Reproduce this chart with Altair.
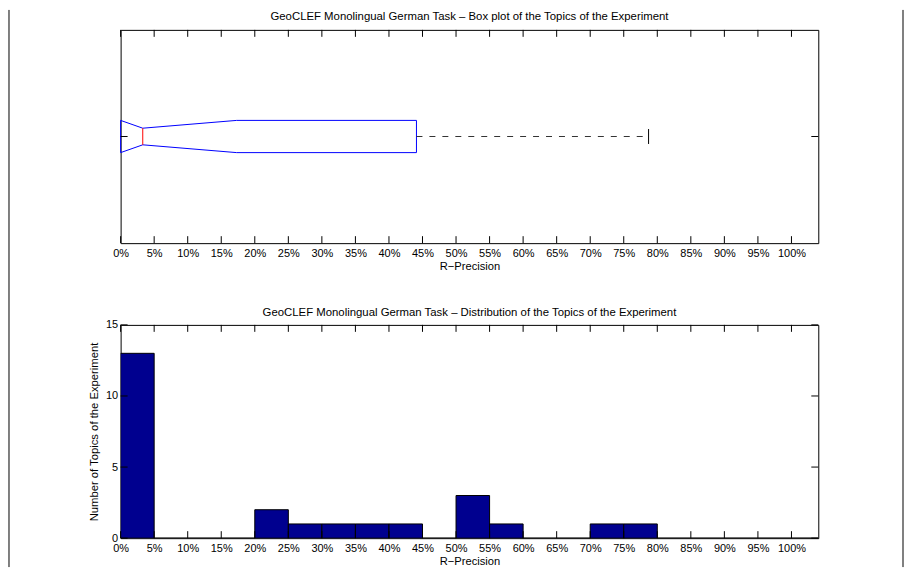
import altair as alt
import pandas as pd

# ---------------- data ----------------
# Histogram (R-Precision, percent bins of width 5)
bin_start = [0, 5, 10, 15, 20, 25, 30, 35, 40, 45, 50, 55, 60, 65, 70, 75, 80, 85, 90, 95, 100]
counts = [13, 0, 0, 0, 2, 1, 1, 1, 1, 0, 3, 1, 0, 0, 1, 1, 0, 0, 0, 0, 0]
bin_width = 5

# Box plot statistics (percent)
stat_min = 0.0
stat_q1 = 0.0
stat_median = 3.3
stat_q3 = 44.1
stat_max = 78.7
notch_low = 0.0
notch_high = 17.3

x_ticks = list(range(0, 101, 5))
hist_y_ticks = [0, 5, 10, 15]
box_y_ticks = [1]

title_top = "GeoCLEF Monolingual German Task – Box plot of the Topics of the Experiment"
title_bottom = "GeoCLEF Monolingual German Task – Distribution of the Topics of the Experiment"
x_title = "R−Precision"
y_title = "Number of Topics of the Experiment"

# ---------------- geometry / style ----------------
W, H = 700, 214
GAP = 82
TICK = 7
FONT = "Liberation Sans"
BOX_H = 0.151      # half height of the box (y units)
NOTCH_H = 0.078    # half height at the median notch
CAP_H = 0.07       # half height of whisker cap

xscale = alt.Scale(domain=[0, 104], nice=False, zero=False)
xaxis = alt.Axis(values=x_ticks, labelExpr="datum.value + '%'", ticks=False, domain=False,
                 grid=False, labelPadding=4, title=x_title, titlePadding=2,
                 labelFontSize=11, titleFontSize=11.2, labelFont=FONT, titleFont=FONT,
                 labelColor="black", titleColor="black", titleFontWeight="normal",
                 labelFlush=False)


def X(field):
    return alt.X(field, type="quantitative", scale=xscale, axis=xaxis)


def borders(top, bottom):
    d = pd.DataFrame({"k": [0]})
    left = alt.Chart(d).mark_rule(color="black", strokeWidth=1).encode(
        x=alt.value(-112), y=alt.value(top), y2=alt.value(bottom))
    right = alt.Chart(d).mark_rule(color="black", strokeWidth=1).encode(
        x=alt.value(785), y=alt.value(top), y2=alt.value(bottom))
    return [left, right]


def title_mark(text, dy):
    d = pd.DataFrame({"t": [text]})
    return alt.Chart(d).mark_text(font=FONT, fontSize=11.4, color="black",
                                  align="center", baseline="middle").encode(
        x=alt.value(W / 2), y=alt.value(dy), text="t:N")


def x_tick_layers():
    d = pd.DataFrame({"v": x_ticks})
    bot = alt.Chart(d).mark_rule(color="black", strokeWidth=1).encode(
        x=X("v"), y=alt.value(H), y2=alt.value(H - TICK))
    top = alt.Chart(d).mark_rule(color="black", strokeWidth=1).encode(
        x=X("v"), y=alt.value(0), y2=alt.value(TICK))
    return [bot, top]


# ---------------- top panel: notched box plot ----------------
yscale_box = alt.Scale(domain=[0, 2], nice=False, zero=False)


def YB(field):
    return alt.Y(field, type="quantitative", scale=yscale_box, axis=None)


pts_x = [stat_q1, notch_low, stat_median, notch_high, stat_q3, stat_q3,
         notch_high, stat_median, notch_low, stat_q1, stat_q1]
pts_y = [1 - BOX_H, 1 - BOX_H, 1 - NOTCH_H, 1 - BOX_H, 1 - BOX_H, 1 + BOX_H,
         1 + BOX_H, 1 + NOTCH_H, 1 + BOX_H, 1 + BOX_H, 1 - BOX_H]
box_df = pd.DataFrame({"x": pts_x, "y": pts_y, "o": list(range(len(pts_x)))})

box = alt.Chart(box_df).mark_line(color="#0000ff", strokeWidth=1).encode(
    x=X("x"), y=YB("y"), order="o:Q")

med_df = pd.DataFrame({"x": [stat_median], "y": [1 - NOTCH_H], "y2": [1 + NOTCH_H]})
median = alt.Chart(med_df).mark_rule(color="#ff0000", strokeWidth=1).encode(
    x=X("x"), y=YB("y"), y2="y2")

wh_df = pd.DataFrame({"x": [stat_q3, stat_min], "x2": [stat_max, stat_q1], "y": [1, 1]})
whisker = alt.Chart(wh_df).mark_rule(color="#333333", strokeWidth=1, strokeDash=[6, 7]).encode(
    x=X("x"), x2="x2", y=YB("y"))

cap_df = pd.DataFrame({"x": [stat_max], "y": [1 - CAP_H], "y2": [1 + CAP_H]})
cap = alt.Chart(cap_df).mark_rule(color="black", strokeWidth=1).encode(
    x=X("x"), y=YB("y"), y2="y2")

yt_df = pd.DataFrame({"v": box_y_ticks})
ytl = alt.Chart(yt_df).mark_rule(color="black", strokeWidth=1).encode(
    y=YB("v"), x=alt.value(0), x2=alt.value(TICK))
ytr = alt.Chart(yt_df).mark_rule(color="black", strokeWidth=1).encode(
    y=YB("v"), x=alt.value(W - TICK), x2=alt.value(W))

top_panel = alt.layer(
    box, median, whisker, cap, ytl, ytr, *x_tick_layers(),
    *borders(-20, 2 * H + GAP + 29),
    title_mark(title_top, -13)
).properties(width=W, height=H)

# ---------------- bottom panel: histogram ----------------
yscale_h = alt.Scale(domain=[0, 15], nice=False, zero=True)
yaxis_h = alt.Axis(values=hist_y_ticks, ticks=False, domain=False, grid=False,
                   labelPadding=3, title=y_title, titlePadding=6,
                   labelFontSize=11, titleFontSize=11.3, labelFont=FONT, titleFont=FONT,
                   labelColor="black", titleColor="black", titleFontWeight="normal")


def YH(field):
    return alt.Y(field, type="quantitative", scale=yscale_h, axis=yaxis_h)


hist_df = pd.DataFrame({"lo": bin_start, "count": counts})
hist_df["hi"] = hist_df["lo"] + bin_width
hist_df["zero"] = 0

bars = alt.Chart(hist_df).mark_rect(color="#00008f", stroke="black", strokeWidth=1, clip=True).encode(
    x=X("lo"), x2="hi", y=YH("count"), y2="zero")

ht_df = pd.DataFrame({"v": hist_y_ticks})
htl = alt.Chart(ht_df).mark_rule(color="black", strokeWidth=1).encode(
    y=YH("v"), x=alt.value(0), x2=alt.value(TICK))
htr = alt.Chart(ht_df).mark_rule(color="black", strokeWidth=1).encode(
    y=YH("v"), x=alt.value(W - TICK), x2=alt.value(W))

bottom_panel = alt.layer(
    bars, htl, htr, *x_tick_layers(),
    title_mark(title_bottom, -11.5)
).properties(width=W, height=H)

chart = alt.vconcat(top_panel, bottom_panel, spacing=GAP, bounds="flush").properties(
    padding=0, background="white"
).configure_view(
    stroke="black", strokeWidth=1
)

chart.save("out.html", embed_options={"renderer": "svg", "actions": False})
